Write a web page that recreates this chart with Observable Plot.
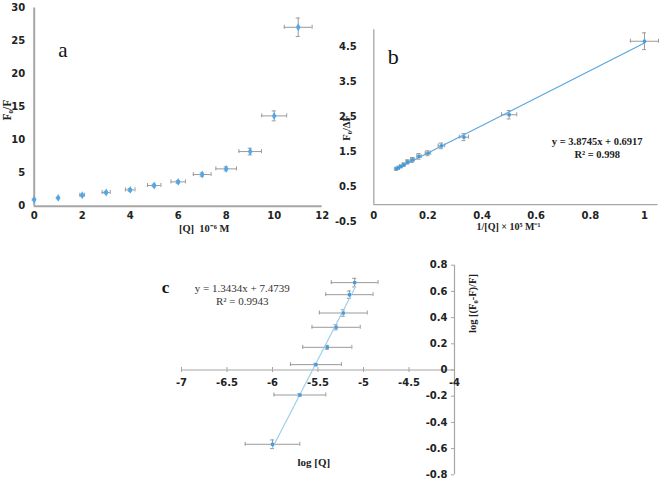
<!DOCTYPE html>
<html>
<head>
<meta charset="utf-8">
<script src="https://cdn.jsdelivr.net/npm/d3@7"></script>
<script src="https://cdn.jsdelivr.net/npm/@observablehq/plot@0.6"></script>
<style>
  html, body { margin: 0; padding: 0; background: #fff; }
  #wrap { position: relative; width: 661px; height: 480px; background: #fff; overflow: hidden; }
  #wrap > div { position: absolute; }
</style>
</head>
<body>
<div id="wrap">
  <div id="pa" style="left:0px;top:0px"></div>
  <div id="pb" style="left:340px;top:0px"></div>
  <div id="pc" style="left:150px;top:240px"></div>
</div>
<script>
// ---------- Panel a data ----------
const aQ     = [0, 1, 2, 3, 4, 5, 6, 7, 8, 9, 10, 11];
const aRatio = [1.0, 1.26, 1.66, 2.07, 2.47, 3.13, 3.68, 4.79, 5.65, 8.27, 13.67, 27.08];
const aErrX  = [0, 0, 0.1, 0.17, 0.2, 0.28, 0.3, 0.37, 0.43, 0.47, 0.52, 0.58];
const aErrY  = [0.1, 0.12, 0.15, 0.18, 0.2, 0.2, 0.2, 0.25, 0.3, 0.5, 0.75, 1.4];
const aXTicks = [0, 2, 4, 6, 8, 10, 12];
const aYTicks = [0, 5, 10, 15, 20, 25, 30];
const aLetter = "a";
const aXLabel = "[Q]  10\u207B\u2076 M";
const aYLabel = "F\u2080/F";

// ---------- Panel b data ----------
const bInvQ  = [1, 0.5, 0.333, 0.25, 0.2, 0.167, 0.143, 0.125, 0.111, 0.1, 0.091, 0.083];
const bRatio = [4.67, 2.57, 1.93, 1.68, 1.47, 1.38, 1.28, 1.22, 1.14, 1.09, 1.05, 1.02];
const bErrX  = [0.052, 0.028, 0.017, 0.012, 0.01, 0.008, 0.007, 0.006, 0.005, 0.004, 0.004, 0.004];
const bErrY  = [0.24, 0.12, 0.1, 0.08, 0.07, 0.08, 0.07, 0.06, 0.05, 0.04, 0.03, 0.03];
const bXTicks = [0, 0.2, 0.4, 0.6, 0.8, 1];
const bYTicks = [-0.5, 0.5, 1.5, 2.5, 3.5, 4.5];
const bLetter = "b";
const bEquation = "y = 3.8745x + 0.6917\nR\u00B2 = 0.998";
const bXLabel = "1/[Q] \u00D7 10\u2075 M\u207B\u00B9";
const bYLabel = "F\u2080/\u0394F";

// ---------- Panel c data ----------
const cLogQ     = [-6, -5.699, -5.523, -5.398, -5.301, -5.222, -5.155, -5.097];
const cLogRatio = [-0.567, -0.191, 0.041, 0.173, 0.326, 0.435, 0.575, 0.667];
const cErrX     = [0.30, 0.285, 0.28, 0.27, 0.265, 0.263, 0.26, 0.257];
const cErrY     = [0.033, 0.01, 0.01, 0.015, 0.02, 0.025, 0.028, 0.033];
const cXTicks = [-7, -6.5, -6, -5.5, -5, -4.5, -4];
const cYTicks = [0.8, 0.6, 0.4, 0.2, 0, -0.2, -0.4, -0.6, -0.8];
const cLetter = "c";
const cEquation = "y = 1.3434x + 7.4739\nR\u00B2 = 0.9943";
const cXLabel = "log [Q]";
const cYLabel = "log [(F\u2080-F)/F]";

// ---------- helpers ----------
const zip = (xs, ys, exs, eys) => xs.map((x, i) => ({x, y: ys[i], ex: exs[i], ey: eys[i]}));
const aData = zip(aQ, aRatio, aErrX, aErrY);
const bData = zip(bInvQ, bRatio, bErrX, bErrY);
const cData = zip(cLogQ, cLogRatio, cErrX, cErrY);

const SERIF = "'Liberation Serif', 'Times New Roman', serif";
const SANS = "'DejaVu Sans', Verdana, sans-serif";
const ERR = "#9a9a9a";
const AXIS = "#a6a6a6";

function errorBars(data, cap, color = ERR) {
  const hx = data.filter(d => d.ex > 0);
  const vy = data.filter(d => d.ey > 0);
  return [
    Plot.ruleY(hx, {y: "y", x1: d => d.x - d.ex, x2: d => d.x + d.ex, stroke: color, strokeWidth: 1}),
    Plot.ruleX(hx, {x: d => d.x - d.ex, y1: "y", y2: "y", insetTop: -cap, insetBottom: -cap, stroke: color}),
    Plot.ruleX(hx, {x: d => d.x + d.ex, y1: "y", y2: "y", insetTop: -cap, insetBottom: -cap, stroke: color}),
    Plot.ruleX(vy, {x: "x", y1: d => d.y - d.ey, y2: d => d.y + d.ey, stroke: color, strokeWidth: 1}),
    Plot.ruleY(vy, {y: d => d.y - d.ey, x1: "x", x2: "x", insetLeft: -cap, insetRight: -cap, stroke: color}),
    Plot.ruleY(vy, {y: d => d.y + d.ey, x1: "x", x2: "x", insetLeft: -cap, insetRight: -cap, stroke: color})
  ];
}

const baseStyle = {fontFamily: SANS, fontSize: "10px", fontWeight: "bold", color: "#222", background: "transparent", overflow: "visible"};

// ---------- Panel a ----------
const plotA = Plot.plot({
  width: 340, height: 240,
  marginLeft: 33.7, marginRight: 18.3, marginTop: 7.5, marginBottom: 34.3,
  x: {domain: [0, 12]},
  y: {domain: [0, 30]},
  style: baseStyle,
  marks: [
    Plot.axisX(aXTicks, {anchor: "bottom", tickSize: 0, tickPadding: 6, label: null, tickFormat: d => String(d)}),
    Plot.axisY(aYTicks, {anchor: "left", tickSize: 0, tickPadding: 9, label: null, tickFormat: d => String(d)}),
    Plot.ruleY([0], {stroke: AXIS, strokeWidth: 2}),
    Plot.ruleX([0], {stroke: AXIS, strokeWidth: 2}),
    ...errorBars(aData, 2),
    Plot.dot(aData, {x: "x", y: "y", symbol: "diamond", r: 2.4, fill: "#4da9ec", stroke: "none"}),
    Plot.text([aLetter], {frameAnchor: "top-left", dx: 28.6, dy: 42.5, textAnchor: "middle", lineAnchor: "middle", fontFamily: SERIF, fontSize: 21, fontWeight: "normal", fill: "#111"}),
    Plot.text([aYLabel], {frameAnchor: "left", dx: -26.7, dy: 3, rotate: -90, textAnchor: "middle", lineAnchor: "middle", fontFamily: SERIF, fontSize: 11.5, fontWeight: "bold", fill: "#222"}),
    Plot.text([aXLabel], {frameAnchor: "bottom", dx: 26, dy: 22.5, textAnchor: "middle", lineAnchor: "middle", fontFamily: SERIF, fontSize: 10.5, fontWeight: "bold", fill: "#222"})
  ]
});
document.getElementById("pa").append(plotA);

// ---------- Panel b ----------
const plotB = Plot.plot({
  width: 321, height: 240,
  marginLeft: 33.3, marginRight: 3.5, marginTop: 29.2, marginBottom: 18.3,
  x: {domain: [0, 1.05], axis: null},
  y: {domain: [-0.5, 5]},
  style: baseStyle,
  marks: [
    Plot.axisY(bYTicks, {anchor: "left", tickSize: 0, tickPadding: 17, label: null, tickFormat: d => String(d)}),
    Plot.text(bXTicks, {x: d => d, y: 0, dy: 11.5, text: d => String(d), textAnchor: "middle", lineAnchor: "middle", fill: "#222"}),
    Plot.ruleY([0], {stroke: AXIS, strokeWidth: 1.3}),
    Plot.ruleX([0], {y1: 0, y2: 5, stroke: AXIS, strokeWidth: 1.3}),
    ...errorBars(bData, 2),
    Plot.linearRegressionY(bData, {x: "x", y: "y", ci: 0, stroke: "#5aa6de", strokeWidth: 1.2}),
    Plot.dot(bData, {x: "x", y: "y", symbol: "square", r: 1.8, fill: "#3f9de3", stroke: "none"}),
    Plot.text([bLetter], {frameAnchor: "top-left", dx: 19.4, dy: 27.5, textAnchor: "middle", lineAnchor: "middle", fontFamily: SERIF, fontSize: 22, fontWeight: "normal", fill: "#111"}),
    Plot.text([bEquation], {frameAnchor: "top-left", dx: 223.4, dy: 117.6, textAnchor: "middle", lineAnchor: "middle", lineHeight: 1.2, fontFamily: SERIF, fontSize: 10.5, fontWeight: "bold", fill: "#222"}),
    Plot.text([bYLabel], {frameAnchor: "left", dx: -27.3, dy: 2, rotate: -90, textAnchor: "middle", lineAnchor: "middle", fontFamily: SERIF, fontSize: 10.5, fontWeight: "bold", fill: "#222"}),
    Plot.text([bXLabel], {frameAnchor: "bottom", dx: -7.4, dy: 4.5, textAnchor: "middle", lineAnchor: "middle", fontFamily: SERIF, fontSize: 10, fontWeight: "bold", fill: "#222"})
  ]
});
document.getElementById("pb").append(plotB);

// ---------- Panel c ----------
const plotC = Plot.plot({
  width: 340, height: 240,
  marginLeft: 31, marginRight: 36, marginTop: 24.7, marginBottom: 5.7,
  x: {domain: [-7, -4], axis: null},
  y: {domain: [-0.8, 0.8], axis: null},
  style: baseStyle,
  marks: [
    Plot.ruleY([0], {stroke: AXIS, strokeWidth: 1.2}),
    Plot.ruleX([-4], {stroke: AXIS, strokeWidth: 1.2}),
    Plot.ruleX(cXTicks, {x: d => d, y1: 0, y2: 0, insetTop: -2.5, insetBottom: -2.5, stroke: AXIS}),
    Plot.ruleY(cYTicks, {y: d => d, x1: -4, x2: -4, insetLeft: -3, insetRight: 0, stroke: AXIS}),
    Plot.text(cXTicks, {x: d => d, y: 0, dy: 13, text: d => String(d), textAnchor: "middle", lineAnchor: "middle", fill: "#222"}),
    Plot.text(cYTicks, {x: -4, y: d => d, dx: -7, text: d => String(d), textAnchor: "end", lineAnchor: "middle", fill: "#222"}),
    ...errorBars(cData, 2),
    Plot.linearRegressionY(cData, {x: "x", y: "y", ci: 0, stroke: "#9ccff0", strokeWidth: 1.2}),
    Plot.dot(cData, {x: "x", y: "y", symbol: "square", r: 1.8, fill: "#3f9de3", stroke: "none"}),
    Plot.text([cLetter], {frameAnchor: "top-left", dx: -16, dy: 22, textAnchor: "middle", lineAnchor: "middle", fontFamily: SERIF, fontSize: 17, fontWeight: "bold", fill: "#111"}),
    Plot.text([cEquation], {frameAnchor: "top-left", dx: 60.7, dy: 29.2, textAnchor: "middle", lineAnchor: "middle", lineHeight: 1.15, fontFamily: SERIF, fontSize: 11, fontWeight: "normal", fill: "#333"}),
    Plot.text([cYLabel], {frameAnchor: "top-right", dx: 17.7, dy: 38.3, rotate: -90, textAnchor: "middle", lineAnchor: "middle", fontFamily: SERIF, fontSize: 10.5, fontWeight: "bold", fill: "#222"}),
    Plot.text([cXLabel], {frameAnchor: "bottom-left", dx: 132.3, dy: -12.6, textAnchor: "middle", lineAnchor: "middle", fontFamily: SERIF, fontSize: 11, fontWeight: "bold", fill: "#222"})
  ]
});
document.getElementById("pc").append(plotC);
</script>
</body>
</html>
